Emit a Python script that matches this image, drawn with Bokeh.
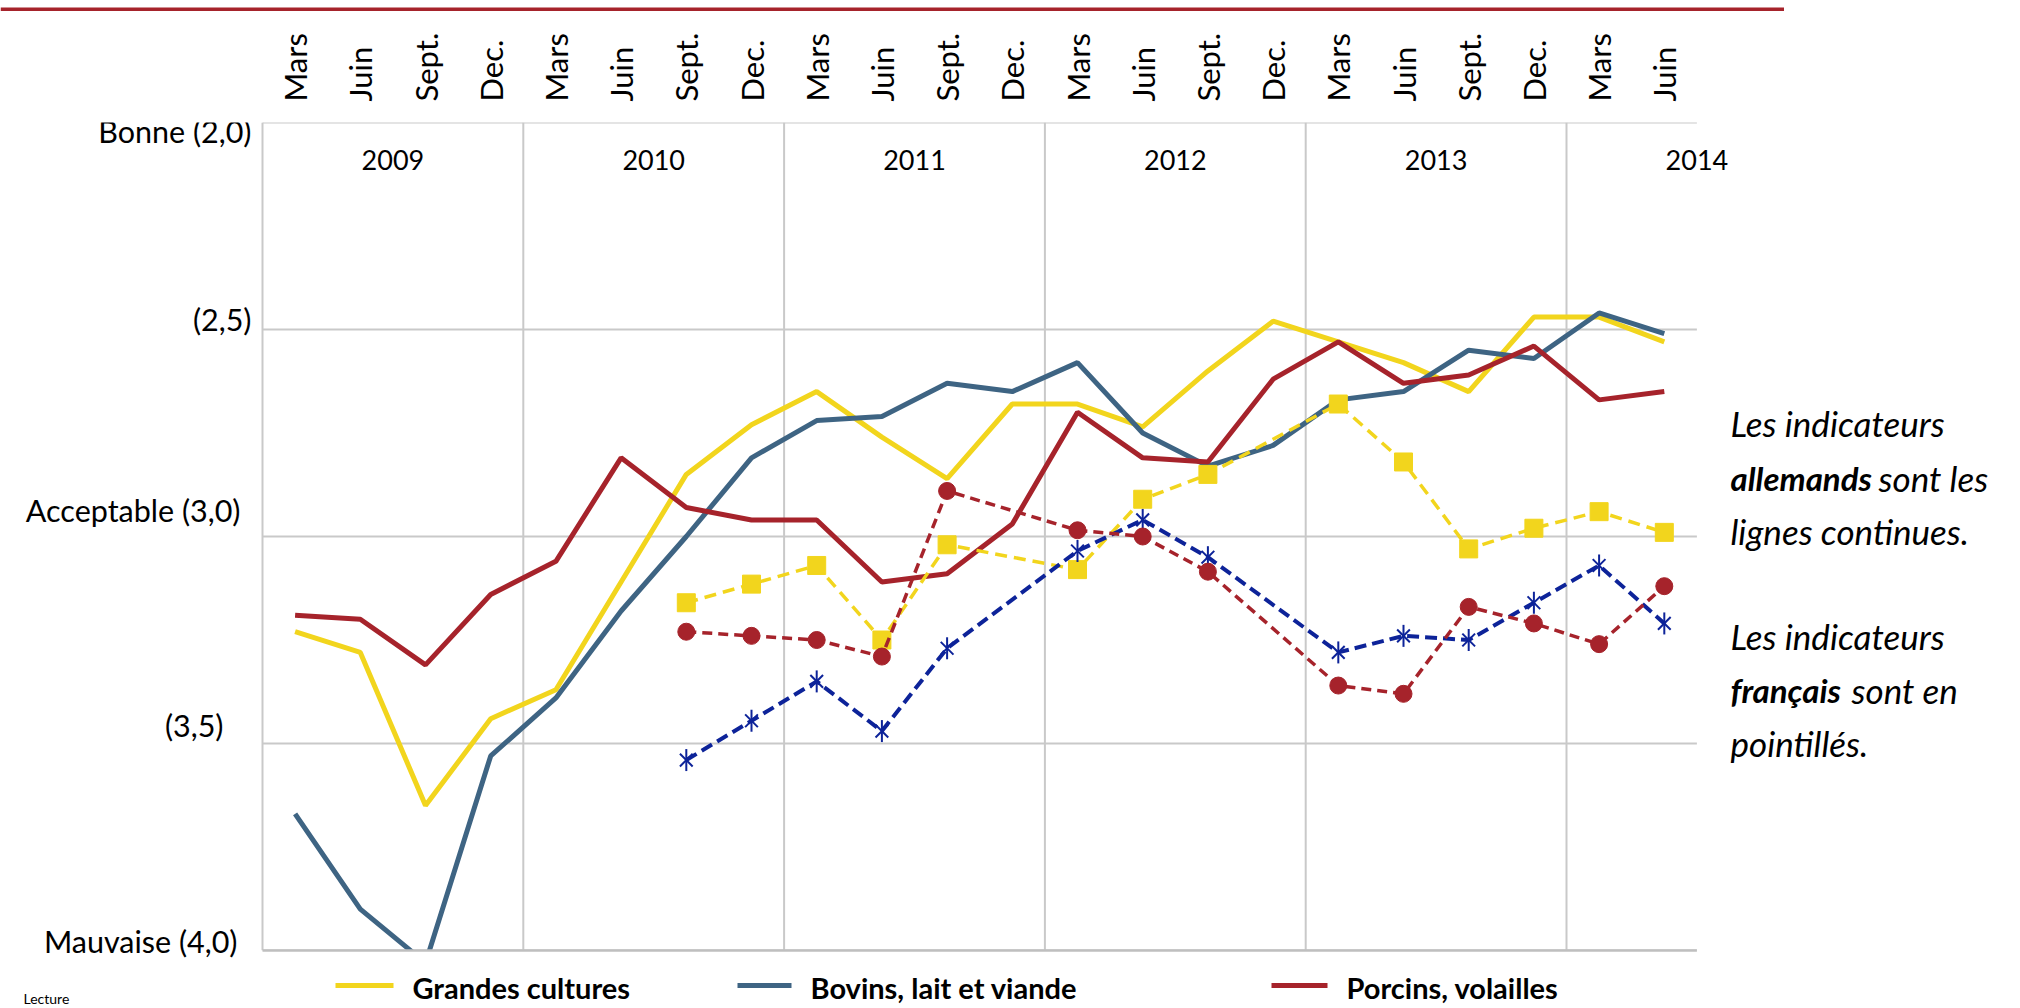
import math
from bokeh.plotting import figure
from bokeh.layouts import column
from bokeh.models import Range1d, FixedTicker
from bokeh.core.properties import value
from bokeh.embed import file_html
from bokeh.resources import INLINE

# ---------------- data ----------------
quarters = ["Mars", "Juin", "Sept.", "Dec."] * 5 + ["Mars", "Juin"]
years = ["2009", "2010", "2011", "2012", "2013", "2014"]
y_ticks = [2.0, 2.5, 3.0, 3.5, 4.0]
y_tick_labels = ["Bonne (2,0)", "(2,5)", "Acceptable (3,0)", "(3,5)", "Mauvaise (4,0)"]
series_names = ["Grandes cultures", "Bovins, lait et viande", "Porcins, volailles"]

# German indicators (solid lines)
de_grandes = [3.23, 3.28, 3.65, 3.44, 3.37, 3.11, 2.85, 2.73, 2.65, 2.76, 2.86,
              2.68, 2.68, 2.735, 2.60, 2.48, 2.53, 2.58, 2.65, 2.47, 2.47, 2.53]
de_bovins = [3.67, 3.90, 4.03, 3.53, 3.39, 3.18, 3.00, 2.81, 2.72, 2.71, 2.63,
             2.65, 2.58, 2.75, 2.83, 2.78, 2.67, 2.65, 2.55, 2.57, 2.46, 2.51]
de_porcins = [3.19, 3.20, 3.31, 3.14, 3.06, 2.81, 2.93, 2.96, 2.96, 3.11, 3.09,
              2.97, 2.70, 2.81, 2.82, 2.62, 2.53, 2.63, 2.61, 2.54, 2.67, 2.65]

# French indicators (dashed lines, markers)
fr_grandes = [None] * 6 + [3.16, 3.115, 3.07, 3.25, 3.02, None,
                           3.08, 2.91, 2.85, None, 2.68, 2.82, 3.03, 2.98, 2.94, 2.99]
fr_bovins = [None] * 6 + [3.54, 3.445, 3.35, 3.47, 3.27, None,
                          3.035, 2.96, 3.05, None, 3.28, 3.24, 3.25, 3.16, 3.07, 3.21]
fr_porcins = [None] * 6 + [3.23, 3.24, 3.25, 3.29, 2.89, None,
                           2.985, 3.00, 3.085, None, 3.36, 3.38, 3.17, 3.21, 3.26, 3.12]

# ---------------- styles / layout ----------------
YELLOW = "#f2d51d"
STEEL = "#3e6483"
RED = "#a6232b"
NAVY = "#0d2399"
GRID = "#c9c9c9"
FONT = "Lato"

PAGE_W, PAGE_H = 2020, 1008
BAR_H = 11              # strip holding the red rule at the very top
W, H = PAGE_W, PAGE_H - BAR_H
FRAME_TOP = 122         # page y of the "Bonne (2,0)" line
TOP = FRAME_TOP - BAR_H
LEFT_PX = 262           # page x of the left plot edge
Q_PX = 65.2             # px per quarter
UNIT_PX = 414.0         # px per indicator unit

n = len(quarters)
xs = list(range(n))
x_start = -0.5 - LEFT_PX / Q_PX
x_end = x_start + W / Q_PX
y_top = y_ticks[0]
y_bottom = y_top + (H - TOP) / UNIT_PX


def fx(px):  # page px -> data x
    return -0.5 + (px - LEFT_PX) / Q_PX


def fy(py):  # page px -> data y
    return y_top + (py - FRAME_TOP) / UNIT_PX


# ---- red rule strip ----
bar = figure(width=1784, height=BAR_H, x_range=Range1d(0, 1784), y_range=Range1d(BAR_H, 0),
             toolbar_location=None, output_backend="svg", min_border=0,
             x_axis_location=None, y_axis_location=None)
bar.outline_line_color = None
bar.xgrid.visible = False
bar.ygrid.visible = False
bar.quad(left=[0], right=[1784], top=[6], bottom=[10], fill_color=RED, line_color=None)

# ---- main chart ----
p = figure(width=W, height=H, x_range=Range1d(x_start, x_end),
           y_range=Range1d(y_bottom, y_top),
           x_axis_location="above", y_axis_location=None,
           toolbar_location=None, output_backend="svg",
           min_border=0, min_border_top=TOP, min_border_left=0,
           min_border_right=0, min_border_bottom=0)
p.outline_line_color = None
p.xgrid.visible = False
p.ygrid.visible = False

ax = p.xaxis[0]
ax.ticker = FixedTicker(ticks=xs)
ax.major_label_overrides = {i: q for i, q in enumerate(quarters)}
ax.major_label_orientation = "vertical"
ax.axis_line_color = None
ax.major_tick_line_color = None
ax.minor_tick_line_color = None
ax.major_label_standoff = 15
ax.major_label_text_font = FONT
ax.major_label_text_font_size = "31px"
ax.major_label_text_color = "black"

x_lo, x_hi = -0.5, n - 0.5
year_bounds = [x_lo + 4 * k for k in range(len(years))]

# gridlines
p.segment(x0=[x_lo] * len(y_ticks), x1=[x_hi] * len(y_ticks), y0=y_ticks, y1=y_ticks,
          line_color=GRID, line_width=2)
p.segment(x0=year_bounds, x1=year_bounds, y0=[y_ticks[0]] * len(year_bounds),
          y1=[y_ticks[-1]] * len(year_bounds), line_color=GRID, line_width=2)

# German solid lines
for vals, col in [(de_grandes, YELLOW), (de_bovins, STEEL), (de_porcins, RED)]:
    p.line(xs, vals, line_color=col, line_width=5)


def present(vals):
    idx = [i for i, v in enumerate(vals) if v is not None]
    return idx, [vals[i] for i in idx]


# French dashed lines
gx, gy = present(fr_grandes)
p.line(gx, gy, line_color=YELLOW, line_width=3.5, line_dash="12 7")
p.scatter(gx, gy, marker="square", size=18, fill_color=YELLOW, line_color=YELLOW)

bx, by = present(fr_bovins)
p.line(bx, by, line_color=NAVY, line_width=4, line_dash="12 6")
p.scatter(bx, by, marker="x", size=18, line_color=NAVY, line_width=2)
p.scatter(bx, by, marker="dash", angle=math.pi / 2, size=22, line_color=NAVY, line_width=2)

rx, ry = present(fr_porcins)
p.line(rx, ry, line_color=RED, line_width=3.5, line_dash="10 6")
p.scatter(rx, ry, marker="circle", size=17, fill_color=RED, line_color=RED)

# mask below the value axis (chart clipped at 4,0)
p.quad(left=[x_lo - 0.2], right=[x_hi + 0.2], top=[y_ticks[-1]], bottom=[y_bottom],
       fill_color="white", line_color=None)
p.segment(x0=[x_lo], x1=[x_hi], y0=[y_ticks[-1]], y1=[y_ticks[-1]],
          line_color="#bfbfbf", line_width=2.5)

# value labels (left)
p.text(x=[x_lo] * len(y_ticks), y=y_ticks, text=y_tick_labels,
       x_offset=[-11, -11, -22, -39, -25], y_offset=[8, -11, -27, -19, -10],
       text_align="right", text_baseline="middle",
       text_font=value(FONT), text_font_size=value("30.5px"), text_color="black")

# year labels
p.text(x=[b + 2 for b in year_bounds], y=[y_top] * len(years), text=years,
       y_offset=37, text_align="center", text_baseline="middle",
       text_font=value(FONT), text_font_size=value("27px"), text_color="black")

# legend (drawn)
leg_cols = [YELLOW, STEEL, RED]
leg_x0 = [335, 737, 1271]
leg_x1 = [393, 791, 1327]
leg_tx = [412, 810, 1346]
p.segment(x0=[fx(v) for v in leg_x0], x1=[fx(v) for v in leg_x1],
          y0=[fy(985)] * 3, y1=[fy(985)] * 3, line_color=leg_cols, line_width=5)
p.text(x=[fx(v) for v in leg_tx], y=[fy(987)] * 3, text=series_names,
       text_align="left", text_baseline="middle",
       text_font=value(FONT), text_font_size=value("29px"),
       text_font_style="bold", text_color="black")

# "Lecture" note at bottom left
p.text(x=[fx(23)], y=[fy(1006)], text=["Lecture"], text_align="left",
       text_baseline="bottom", text_font=value(FONT), text_font_size=value("14px"),
       text_color="black")

# right-hand notes
notes_it = [("Les indicateurs", 1730, 422), ("sont les", 1878, 477),
            ("lignes continues.", 1730, 530), ("Les indicateurs", 1730, 635),
            ("sont en", 1851, 689), ("pointillés.", 1730, 742)]
notes_bd = [("allemands", 1730, 477), ("français", 1730, 689)]
p.text(x=[fx(a[1]) for a in notes_it], y=[fy(a[2]) for a in notes_it],
       text=[a[0] for a in notes_it], text_align="left", text_baseline="middle",
       text_font=value(FONT), text_font_size=value("35px"),
       text_font_style="italic", text_color="black")
p.text(x=[fx(a[1]) for a in notes_bd], y=[fy(a[2]) for a in notes_bd],
       text=[a[0] for a in notes_bd], text_align="left", text_baseline="middle",
       text_font=value(FONT), text_font_size=value("33px"),
       text_font_style="bold italic", text_color="black")

layout = column(bar, p, spacing=0)
open("out.html", "w").write(file_html(layout, INLINE))
